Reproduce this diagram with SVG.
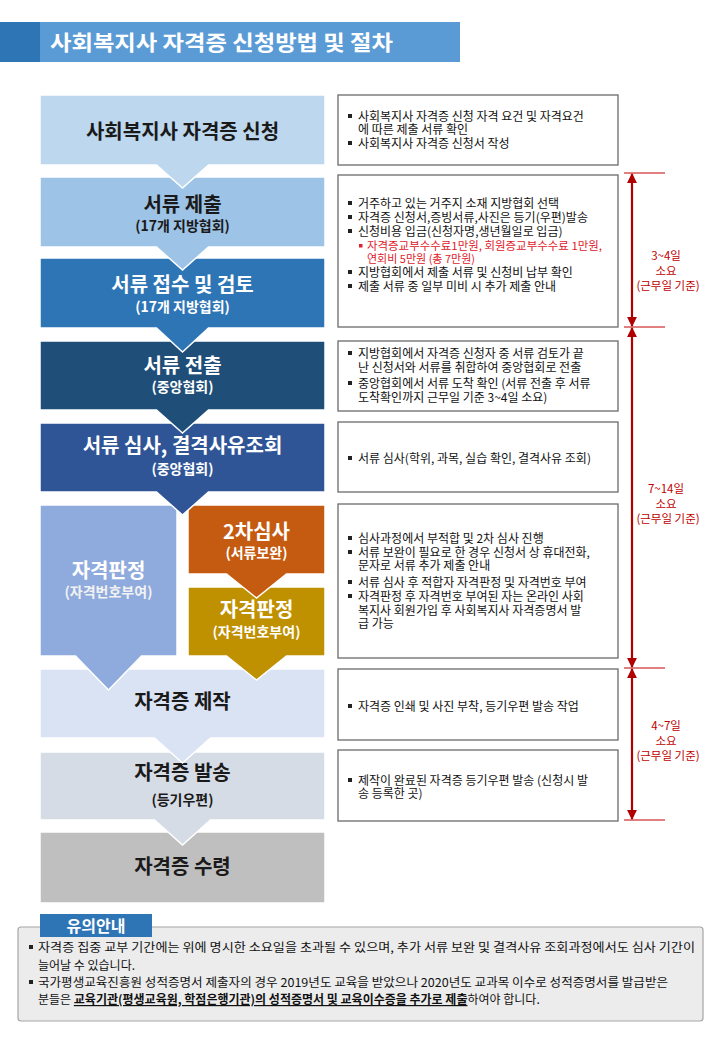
<svg xmlns="http://www.w3.org/2000/svg" width="720" height="1040" viewBox="0 0 720 1040">
<defs>
<style>
text{font-family:"Noto Sans CJK KR","Noto Sans",sans-serif;}
.step{stroke:#fff;stroke-width:1.5;}
.t1{font-size:20px;font-weight:bold;text-anchor:middle;}
.t2{font-size:14px;font-weight:bold;text-anchor:middle;}
.dk{fill:#1a1a1a;}
.wh{fill:#fff;}
.box{fill:#fff;stroke:#6b6b6b;stroke-width:1.3;}
.d{font-size:12px;fill:#111;}
.r{font-size:11px;fill:#e0202a;}
.bl{fill:#222;}
.rb{fill:#e0202a;}
.tm{font-size:11.5px;fill:#c00000;text-anchor:middle;}
.tick{stroke:#c00000;stroke-width:1;}
.arr{stroke:#b00000;stroke-width:2.2;fill:none;marker-start:url(#ah);marker-end:url(#ah);}
.n{font-size:12px;fill:#111;}
</style>
<marker id="ah" viewBox="0 0 10 10" refX="9" refY="5" markerWidth="4.5" markerHeight="4.5" orient="auto-start-reverse" markerUnits="strokeWidth">
<path d="M0,0 L10,5 L0,10 Z" fill="#b00000"/>
</marker>
</defs>
<rect width="720" height="1040" fill="#fff"/>

<g id="header">
<rect x="0" y="22" width="40" height="40" fill="#2e75b6"/>
<rect x="40" y="22" width="420" height="40" fill="#5b9bd5"/>
<text x="50" y="50" font-size="21" font-weight="bold" fill="#fff" textLength="343" lengthAdjust="spacingAndGlyphs">사회복지사 자격증 신청방법 및 절차</text>
</g>

<g id="step8">
<rect class="step" x="40" y="832" width="285" height="71" fill="#bfbfbf"/>
<text class="t1 dk" x="182.5" y="874">자격증 수령</text>
</g>
<g id="step7">
<path class="step" d="M40,752 H325 V820 H210.5 L182.5,845 L154.5,820 H40 Z" fill="#d6dce5"/>
<text class="t1 dk" x="182.5" y="780">자격증 발송</text>
<text class="t2 dk" x="182.5" y="805">(등기우편)</text>
</g>
<g id="step6">
<path class="step" d="M40,669 H325 V738 H210.5 L182.5,763 L154.5,738 H40 Z" fill="#dae3f3"/>
<text class="t1 dk" x="182.5" y="709">자격증 제작</text>
</g>
<g id="step-gold">
<path class="step" d="M188,587 H325 V656 H286.5 L256.5,680 L226.5,656 H188 Z" fill="#bf9000"/>
<text class="t1 wh" x="256.5" y="617">자격판정</text>
<text class="t2 wh" x="256.5" y="637">(자격번호부여)</text>
</g>
<g id="step-orange">
<path class="step" d="M188,505 H325 V574 H286.5 L256.5,598 L226.5,574 H188 Z" fill="#c55a11"/>
<text class="t1 wh" x="256.5" y="539">2차심사</text>
<text class="t2 wh" x="256.5" y="558">(서류보완)</text>
</g>
<g id="step-left">
<path class="step" d="M40,505 H177 V656 H141.5 L108.5,690 L75.5,656 H40 Z" fill="#8faadc"/>
<text class="t1 wh" x="108.5" y="578">자격판정</text>
<text class="t2" x="108.5" y="597" fill="#f2f2f2">(자격번호부여)</text>
</g>
<g id="step5">
<path class="step" d="M40,423 H325 V492 H208.5 L182.5,515 L156.5,492 H40 Z" fill="#2f5597"/>
<text class="t1 wh" x="182.5" y="453">서류 심사, 결격사유조회</text>
<text class="t2 wh" x="182.5" y="474">(중앙협회)</text>
</g>
<g id="step4">
<path class="step" d="M40,341 H325 V410 H208.5 L182.5,433 L156.5,410 H40 Z" fill="#1f4e79"/>
<text class="t1 wh" x="182.5" y="373">서류 전출</text>
<text class="t2 wh" x="182.5" y="392">(중앙협회)</text>
</g>
<g id="step3">
<path class="step" d="M40,258 H325 V328 H208.5 L182.5,352 L156.5,328 H40 Z" fill="#2e75b6"/>
<text class="t1 wh" x="182.5" y="292">서류 접수 및 검토</text>
<text class="t2 wh" x="182.5" y="312">(17개 지방협회)</text>
</g>
<g id="step2">
<path class="step" d="M40,177 H325 V247 H208.5 L182.5,270 L156.5,247 H40 Z" fill="#9dc3e6"/>
<text class="t1 dk" x="182.5" y="212">서류 제출</text>
<text class="t2 dk" x="182.5" y="231">(17개 지방협회)</text>
</g>
<g id="step1">
<path class="step" d="M40,95 H325 V165 H208.5 L182.5,188 L156.5,165 H40 Z" fill="#bdd7ee"/>
<text class="t1 dk" x="182.5" y="139">사회복지사 자격증 신청</text>
</g>

<g id="desc1">
<rect class="box" x="338" y="95" width="280" height="70"/>
<rect class="bl" x="348" y="114" width="4" height="4"/>
<text class="d" x="358" y="120.5">사회복지사 자격증 신청 자격 요건 및 자격요건</text>
<text class="d" x="358" y="134">에 따른 제출 서류 확인</text>
<rect class="bl" x="348" y="141" width="4" height="4"/>
<text class="d" x="358" y="147.5">사회복지사 자격증 신청서 작성</text>
</g>
<g id="desc2">
<rect class="box" x="338" y="175" width="280" height="152"/>
<rect class="bl" x="348" y="201" width="4" height="4"/>
<text class="d" x="358" y="207.5">거주하고 있는 거주지 소재 지방협회 선택</text>
<rect class="bl" x="348" y="215" width="4" height="4"/>
<text class="d" x="358" y="221.5">자격증 신청서,증빙서류,사진은 등기(우편)발송</text>
<rect class="bl" x="348" y="229" width="4" height="4"/>
<text class="d" x="358" y="235.5">신청비용 입금(신청자명,생년월일로 입금)</text>
<rect class="rb" x="359" y="244" width="3.5" height="3.5"/>
<text class="r" x="367" y="249.5" textLength="235" lengthAdjust="spacingAndGlyphs">자격증교부수수료1만원, 회원증교부수수료 1만원,</text>
<text class="r" x="367" y="262.5">연회비 5만원 (총 7만원)</text>
<rect class="bl" x="348" y="270" width="4" height="4"/>
<text class="d" x="358" y="276.5">지방협회에서 제출 서류 및 신청비 납부 확인</text>
<rect class="bl" x="348" y="284" width="4" height="4"/>
<text class="d" x="358" y="290.5">제출 서류 중 일부 미비 시 추가 제출 안내</text>
</g>
<g id="desc3">
<rect class="box" x="338" y="341" width="280" height="70"/>
<rect class="bl" x="348" y="351" width="4" height="4"/>
<text class="d" x="358" y="357.5">지방협회에서 자격증 신청자 중 서류 검토가 끝</text>
<text class="d" x="358" y="371.5">난 신청서와 서류를 취합하여 중앙협회로 전출</text>
<rect class="bl" x="348" y="381" width="4" height="4"/>
<text class="d" x="358" y="387.5">중앙협회에서 서류 도착 확인 (서류 전출 후 서류</text>
<text class="d" x="358" y="401.5">도착확인까지 근무일 기준 3~4일 소요)</text>
</g>
<g id="desc4">
<rect class="box" x="338" y="422" width="280" height="70"/>
<rect class="bl" x="348" y="456" width="4" height="4"/>
<text class="d" x="358" y="462.5">서류 심사(학위, 과목, 실습 확인, 결격사유 조회)</text>
</g>
<g id="desc5">
<rect class="box" x="338" y="504" width="280" height="154"/>
<rect class="bl" x="348" y="536" width="4" height="4"/>
<text class="d" x="358" y="542.5">심사과정에서 부적합 및 2차 심사 진행</text>
<rect class="bl" x="348" y="550" width="4" height="4"/>
<text class="d" x="358" y="556.5">서류 보완이 필요로 한 경우 신청서 상 휴대전화,</text>
<text class="d" x="358" y="570">문자로 서류 추가 제출 안내</text>
<rect class="bl" x="348" y="580" width="4" height="4"/>
<text class="d" x="358" y="586.5">서류 심사 후 적합자 자격판정 및 자격번호 부여</text>
<rect class="bl" x="348" y="594" width="4" height="4"/>
<text class="d" x="358" y="600.5">자격판정 후 자격번호 부여된 자는 온라인 사회</text>
<text class="d" x="358" y="614.5">복지사 회원가입 후 사회복지사 자격증명서 발</text>
<text class="d" x="358" y="628">급 가능</text>
</g>
<g id="desc6">
<rect class="box" x="338" y="669" width="280" height="71"/>
<rect class="bl" x="348" y="704" width="4" height="4"/>
<text class="d" x="358" y="710.5">자격증 인쇄 및 사진 부착, 등기우편 발송 작업</text>
</g>
<g id="desc7">
<rect class="box" x="338" y="750" width="280" height="71"/>
<rect class="bl" x="348" y="778" width="4" height="4"/>
<text class="d" x="358" y="784.5">제작이 완료된 자격증 등기우편 발송 (신청시 발</text>
<text class="d" x="358" y="798">송 등록한 곳)</text>
</g>

<g id="connectors">
<line class="tick" x1="624" y1="173" x2="665" y2="173"/>
<line class="tick" x1="624" y1="327" x2="665" y2="327"/>
<line class="tick" x1="624" y1="668" x2="665" y2="668"/>
<line class="tick" x1="624" y1="820" x2="665" y2="820"/>
<line class="arr" x1="632" y1="174" x2="632" y2="326"/>
<line class="arr" x1="632" y1="328" x2="632" y2="667"/>
<line class="arr" x1="632" y1="669" x2="632" y2="819"/>
</g>
<g id="durations">
<text class="tm" x="666" y="260">3~4일</text>
<text class="tm" x="666" y="275">소요</text>
<text class="tm" x="668" y="290">(근무일 기준)</text>
<text class="tm" x="666" y="493">7~14일</text>
<text class="tm" x="666" y="508">소요</text>
<text class="tm" x="668" y="523">(근무일 기준)</text>
<text class="tm" x="666" y="730">4~7일</text>
<text class="tm" x="666" y="745">소요</text>
<text class="tm" x="668" y="760">(근무일 기준)</text>
</g>

<g id="notice">
<rect x="18" y="927" width="685" height="94" rx="3" fill="#ececec" stroke="#a6a6a6" stroke-width="1.2"/>
<rect x="40" y="914" width="112" height="23" fill="#2e75b6"/>
<text x="96" y="932" font-size="16" font-weight="bold" fill="#fff" text-anchor="middle">유의안내</text>
<rect class="bl" x="29" y="945" width="4" height="4"/>
<text class="n" x="38" y="952" textLength="657" lengthAdjust="spacingAndGlyphs">자격증 집중 교부 기간에는 위에 명시한 소요일을 초과될 수 있으며, 추가 서류 보완 및 결격사유 조회과정에서도 심사 기간이</text>
<text class="n" x="38" y="970">늘어날 수 있습니다.</text>
<rect class="bl" x="29" y="980" width="4" height="4"/>
<text class="n" x="38" y="987" textLength="630" lengthAdjust="spacingAndGlyphs">국가평생교육진흥원 성적증명서 제출자의 경우 2019년도 교육을 받았으나 2020년도 교과목 이수로 성적증명서를 발급받은</text>
<text class="n" x="38" y="1004">분들은 <tspan font-weight="bold" text-decoration="underline">교육기관(평생교육원, 학점은행기관)의 성적증명서 및 교육이수증을 추가로 제출</tspan>하여야 합니다.</text>
</g>
</svg>
